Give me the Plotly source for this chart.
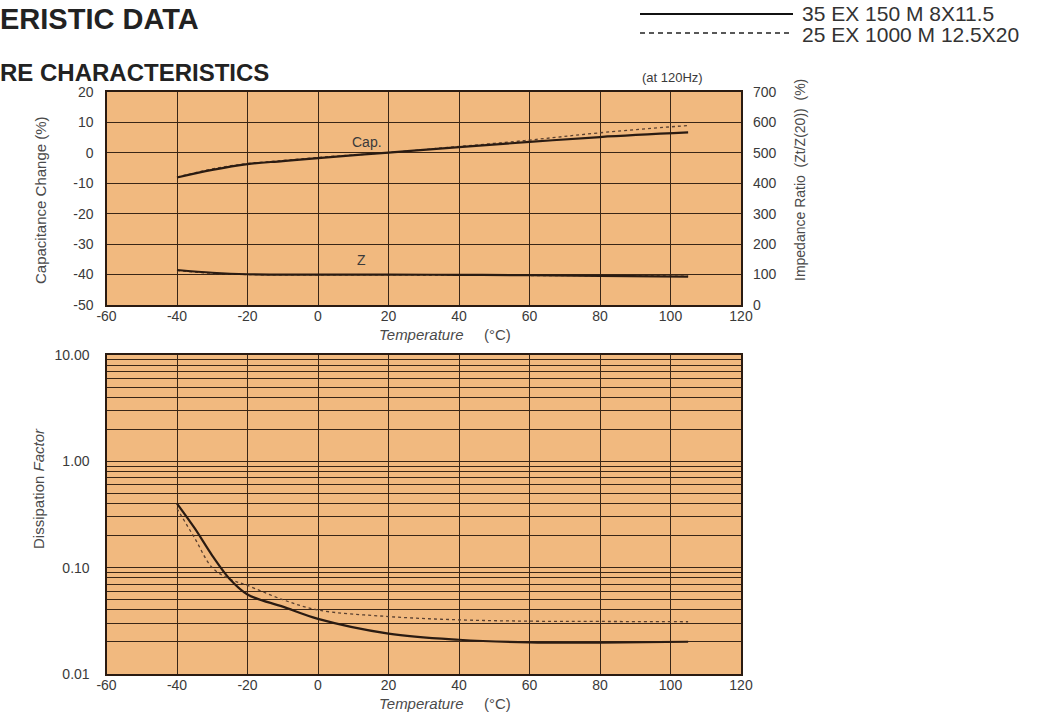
import plotly.graph_objects as go

# ---------------- data ----------------
temp_cap = [-40, -30, -20, -10, 0, 20, 40, 60, 80, 105]
cap_solid = [-8.1, -5.6, -3.7, -2.7, -1.7, 0.1, 1.9, 3.6, 5.2, 6.7]
cap_dash = [-8.0, -5.3, -3.5, -2.5, -1.5, 0.1, 2.1, 4.2, 6.6, 9.0]

temp_z = [-40, -30, -20, 0, 20, 40, 60, 80, 105]
z_solid = [115, 106, 101, 100, 100, 99, 98, 96, 93]
z_dash = [113, 104, 100, 99, 99, 98, 97, 96, 95]

temp_df = [-40, -35, -30, -25, -20, -10, 0, 20, 40, 60, 80, 105]
df_solid = [0.40, 0.235, 0.13, 0.078, 0.056, 0.043, 0.033, 0.024, 0.021, 0.0198, 0.0197, 0.0201]
df_dash = [0.36, 0.19, 0.10, 0.078, 0.068, 0.050, 0.040, 0.0347, 0.0323, 0.0314, 0.0312, 0.031]

x_ticks = [-60, -40, -20, 0, 20, 40, 60, 80, 100, 120]
cap_ticks = [-50, -40, -30, -20, -10, 0, 10, 20]
z_ticks = [0, 100, 200, 300, 400, 500, 600, 700]
df_major = [0.01, 0.1, 1, 10]
df_major_text = ["0.01", "0.10", "1.00", "10.00"]

legend_names = ["35 EX 150 M 8X11.5", "25 EX 1000 M 12.5X20"]

# ---------------- layout helpers ----------------
W, H = 1062, 713
def px(x):
    return x / W
def py(y):
    return 1 - y / H

BG = "#F1B97F"
GRID = "#3a2616"
LINE = "#2a1b12"
TXT = "#3a3a3a"
FONT = "Liberation Sans, Arial, sans-serif"

# log grid values: 1..9 multiples of each decade
df_grid = []
df_grid_text = []
for d in [0.01, 0.1, 1]:
    for m in range(1, 10):
        v = round(d * m, 4)
        df_grid.append(v)
        df_grid_text.append(df_major_text[df_major.index(d)] if m == 1 else "")
df_grid.append(10)
df_grid_text.append("10.00")

x_text = [str(v) for v in x_ticks]
cap_text = [str(v) for v in cap_ticks]
z_text = [str(v) for v in z_ticks]

fig = go.Figure()

solid_style = dict(color=LINE, width=2.2)
dash_style = dict(color="#5a4030", width=1.3, dash="3px,3px")

fig.add_trace(go.Scatter(x=temp_cap, y=cap_dash, mode="lines", line=dict(**dash_style, shape="spline"),
                         xaxis="x", yaxis="y", showlegend=False, name=legend_names[1]))
fig.add_trace(go.Scatter(x=temp_cap, y=cap_solid, mode="lines", line=dict(**solid_style, shape="spline"),
                         xaxis="x", yaxis="y", showlegend=False, name=legend_names[0]))
fig.add_trace(go.Scatter(x=temp_z, y=z_dash, mode="lines", line=dict(**dash_style, shape="spline"),
                         xaxis="x", yaxis="y2", showlegend=False, name=legend_names[1]))
fig.add_trace(go.Scatter(x=temp_z, y=z_solid, mode="lines", line=dict(**solid_style, shape="spline"),
                         xaxis="x", yaxis="y2", showlegend=False, name=legend_names[0]))
fig.add_trace(go.Scatter(x=temp_df, y=df_dash, mode="lines", line=dict(**dash_style, shape="spline"),
                         xaxis="x2", yaxis="y3", showlegend=False, name=legend_names[1]))
fig.add_trace(go.Scatter(x=temp_df, y=df_solid, mode="lines", line=dict(**solid_style, shape="spline"),
                         xaxis="x2", yaxis="y3", showlegend=False, name=legend_names[0]))

x_dom = [px(106.5), px(741)]
top_dom = [py(305), py(92)]
bot_dom = [py(674), py(355)]

TICKFONT = dict(family=FONT, size=14, color=TXT)
axis_common = dict(showline=True, mirror=True, linecolor=LINE, linewidth=2.2,
                   showgrid=True, gridcolor=GRID, gridwidth=1.4, zeroline=False,
                   ticks="", tickfont=TICKFONT, automargin=False)

fig.update_layout(
    width=W, height=H,
    margin=dict(l=0, r=0, t=0, b=0),
    paper_bgcolor="white",
    plot_bgcolor=BG,
    font=dict(family=FONT, color=TXT),
    showlegend=False,
    xaxis=dict(domain=x_dom, anchor="y", range=[-60, 120], tickvals=x_ticks, ticktext=x_text,
               ticklabelstandoff=-3, **axis_common),
    yaxis=dict(domain=top_dom, anchor="x", range=[-50, 20], tickvals=cap_ticks, ticktext=cap_text,
               ticklabelstandoff=8, **axis_common),
    yaxis2=dict(overlaying="y", side="right", anchor="x", range=[0, 700], tickvals=z_ticks, ticktext=z_text,
                showgrid=False, showline=False, zeroline=False, ticks="", ticklabelstandoff=11,
                tickfont=TICKFONT, automargin=False),
    xaxis2=dict(domain=x_dom, anchor="y3", range=[-60, 120], tickvals=x_ticks, ticktext=x_text,
                ticklabelstandoff=-3, **axis_common),
    yaxis3=dict(domain=bot_dom, anchor="x2", type="log", range=[-2, 1],
                tickvals=df_grid, ticktext=df_grid_text, ticklabelstandoff=12, **axis_common),
)

ann = []
def text(x, y, s, size=13, xanchor="center", yanchor="middle", angle=0, color=TXT, **kw):
    ann.append(dict(x=px(x), y=py(y), xref="paper", yref="paper", text=s, showarrow=False,
                    xanchor=xanchor, yanchor=yanchor, textangle=angle,
                    font=dict(family=FONT, size=size, color=color), **kw))

text(-2, 19, "<b>ERISTIC DATA</b>", size=29, xanchor="left", color="#222222")
text(-2, 72, "<b>RE CHARACTERISTICS</b>", size=24, xanchor="left", color="#222222")
text(800, 14, legend_names[0], size=21, xanchor="left", color="#333333")
text(800, 34, legend_names[1], size=21, xanchor="left", color="#333333")
text(672, 77, "(at 120Hz)", size=13)
text(40, 200, "Capacitance Change (%)", size=15, angle=-90, color="#4a4a4a")
text(800, 180, "Impedance Ratio  (Zt/Z(20))  (%)", size=14, angle=-90, color="#4a4a4a")
text(377, 335, "<i>Temperature</i>", size=15, xanchor="left", color="#4a4a4a")
text(482, 335, "(°C)", size=15, xanchor="left", color="#4a4a4a")
text(377, 703, "<i>Temperature</i>", size=15, xanchor="left", color="#4a4a4a")
text(482, 703, "(°C)", size=15, xanchor="left", color="#4a4a4a")
text(38, 489, "Dissipation <i>Factor</i>", size=15, angle=-90, color="#4a4a4a")
text(367, 142, "Cap.", size=14)
text(361, 260, "Z", size=14)
fig.update_layout(annotations=ann)

# legend line samples
fig.add_shape(type="line", xref="paper", yref="paper", x0=px(640), x1=px(793), y0=py(14), y1=py(14),
              line=dict(color="#111111", width=2))
fig.add_shape(type="line", xref="paper", yref="paper", x0=px(640), x1=px(793), y0=py(33), y1=py(33),
              line=dict(color="#222222", width=1.6, dash="5px,4px"))

fig.write_html("out.html", config={"displayModeBar": False},
               post_script="document.body.style.margin='0';")
